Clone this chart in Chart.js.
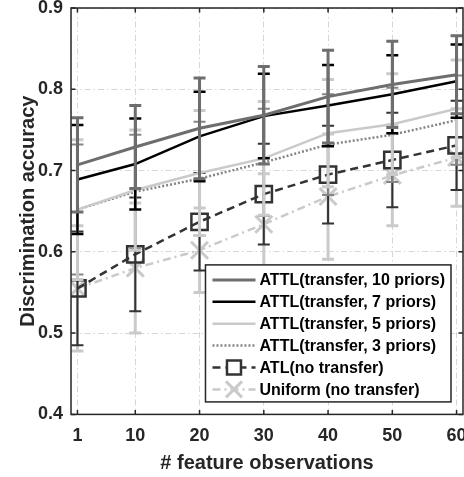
<!DOCTYPE html>
<html>
<head>
<meta charset="utf-8">
<script src="https://cdn.jsdelivr.net/npm/chart.js@4.4.1/dist/chart.umd.min.js"></script>
<style>
  html, body { margin: 0; padding: 0; background: #fff; overflow: hidden; }
</style>
</head>
<body>
<canvas id="accChart" width="464" height="477"></canvas>
<script>
// x positions (# feature observations) and tick labels
const xValues = [1, 10, 20, 30, 40, 50, 60];
const xTicks = [1, 10, 20, 30, 40, 50, 60];
const yTicks = [0.4, 0.5, 0.6, 0.7, 0.8, 0.9];

// mean accuracy and error bar half-widths
const acc10 = [0.707, 0.729, 0.752, 0.768, 0.791, 0.806, 0.818];
const err10 = [0.058, 0.051, 0.062, 0.060, 0.057, 0.053, 0.048];
const acc7 = [0.689, 0.708, 0.742, 0.767, 0.780, 0.794, 0.810];
const err7 = [0.067, 0.056, 0.055, 0.052, 0.050, 0.048, 0.045];
const acc5 = [0.652, 0.676, 0.697, 0.715, 0.746, 0.757, 0.776];
const err5 = [0.086, 0.074, 0.077, 0.070, 0.066, 0.062, 0.060];
const acc3 = [0.652, 0.674, 0.690, 0.710, 0.732, 0.744, 0.762];
const err3 = [0.080, 0.070, 0.070, 0.066, 0.062, 0.058, 0.055];
const accATL = [0.555, 0.597, 0.637, 0.671, 0.695, 0.713, 0.731];
const errATL = [0.070, 0.070, 0.060, 0.062, 0.060, 0.058, 0.055];
const accUni = [0.555, 0.580, 0.602, 0.634, 0.668, 0.694, 0.716];
const errUni = [0.077, 0.080, 0.052, 0.062, 0.077, 0.062, 0.060];

const FONT = "'Liberation Sans', Arial, Helvetica, sans-serif";
const TEXT = '#262626';

function series(label, ys, errs, style) {
  return Object.assign({
    label: label,
    data: xValues.map((x, i) => ({ x: x, y: ys[i] })),
    errors: errs,
    fill: false,
    tension: 0,
    pointRadius: 0,
    pointHoverRadius: 0
  }, style);
}

// error bars, drawn under each series' own line
const errorBars = {
  id: 'errorBars',
  beforeDatasetDraw(chart, args) {
    const ds = chart.data.datasets[args.index];
    if (!ds.errors) return;
    const { ctx, chartArea, scales: { x, y } } = chart;
    ctx.save();
    ctx.beginPath();
    ctx.rect(chartArea.left, chartArea.top, chartArea.width, chartArea.height);
    ctx.clip();
    ctx.strokeStyle = ds.errorColor || ds.borderColor;
    ctx.lineWidth = ds.errorWidth || 2;
    ctx.setLineDash([]);
    ds.data.forEach((p, i) => {
      const px = x.getPixelForValue(p.x);
      const top = y.getPixelForValue(p.y + ds.errors[i]);
      const bot = y.getPixelForValue(p.y - ds.errors[i]);
      ctx.beginPath();
      ctx.moveTo(px, top); ctx.lineTo(px, bot);
      ctx.moveTo(px - 6, top); ctx.lineTo(px + 6, top);
      ctx.moveTo(px - 6, bot); ctx.lineTo(px + 6, bot);
      ctx.stroke();
    });
    ctx.restore();
  }
};

// box around the axes with inward ticks, MATLAB style
const axesBox = {
  id: 'axesBox',
  afterDatasetsDraw(chart) {
    const { ctx, chartArea: a, scales: { x, y } } = chart;
    ctx.save();
    ctx.strokeStyle = TEXT;
    ctx.lineWidth = 1.5;
    ctx.setLineDash([]);
    ctx.beginPath();
    x.ticks.forEach(t => {
      const px = x.getPixelForValue(t.value);
      ctx.moveTo(px, a.bottom); ctx.lineTo(px, a.bottom - 4.5);
      ctx.moveTo(px, a.top); ctx.lineTo(px, a.top + 4.5);
    });
    y.ticks.forEach(t => {
      const py = y.getPixelForValue(t.value);
      ctx.moveTo(a.left, py); ctx.lineTo(a.left + 4.5, py);
      ctx.moveTo(a.right, py); ctx.lineTo(a.right - 4.5, py);
    });
    ctx.stroke();
    ctx.strokeRect(a.left, a.top, a.right - a.left, a.bottom - a.top);
    ctx.restore();
  }
};

// legend box inside the lower right corner of the plot
const insideLegend = {
  id: 'insideLegend',
  afterDraw(chart) {
    const { ctx, chartArea: a } = chart;
    const sets = chart.data.datasets;
    ctx.save();
    ctx.font = 'bold 16px ' + FONT;
    const textW = Math.max(...sets.map(d => ctx.measureText(d.label).width));
    const sampleW = 43, rowH = 21.9;
    const w = 7 + sampleW + 4 + textW + 6;
    const h = 15 + rowH * (sets.length - 1) + 12.5;
    const left = a.right - 12 - w;
    const top = a.bottom - 12.5 - h;
    ctx.fillStyle = '#fff';
    ctx.fillRect(left, top, w, h);
    ctx.strokeStyle = TEXT;
    ctx.lineWidth = 1.5;
    ctx.strokeRect(left, top, w, h);
    sets.forEach((d, i) => {
      const cy = top + 15 + i * rowH;
      const x0 = left + 7, x1 = x0 + sampleW, cx = (x0 + x1) / 2;
      ctx.strokeStyle = d.borderColor;
      ctx.lineWidth = d.borderWidth;
      ctx.setLineDash(d.borderDash || []);
      ctx.beginPath();
      ctx.moveTo(x0, cy); ctx.lineTo(x1, cy);
      ctx.stroke();
      ctx.setLineDash([]);
      if (d.pointStyle === 'rect') {
        ctx.strokeStyle = d.pointBorderColor;
        ctx.lineWidth = d.pointBorderWidth;
        ctx.fillStyle = '#fff';
        ctx.fillRect(cx - 7, cy - 7, 14, 14);
        ctx.strokeRect(cx - 7, cy - 7, 14, 14);
      } else if (d.pointStyle === 'crossRot') {
        ctx.strokeStyle = d.pointBorderColor;
        ctx.lineWidth = d.pointBorderWidth;
        ctx.beginPath();
        ctx.moveTo(cx - 8, cy - 8); ctx.lineTo(cx + 8, cy + 8);
        ctx.moveTo(cx - 8, cy + 8); ctx.lineTo(cx + 8, cy - 8);
        ctx.stroke();
      }
      ctx.fillStyle = '#000';
      ctx.textBaseline = 'middle';
      ctx.textAlign = 'left';
      ctx.fillText(d.label, x1 + 4, cy + 1);
    });
    ctx.restore();
  }
};

new Chart(document.getElementById('accChart'), {
  type: 'line',
  data: {
    datasets: [
      series('ATTL(transfer, 10 priors)', acc10, err10, {
        borderColor: '#6e6e6e', borderWidth: 3, errorWidth: 3
      }),
      series('ATTL(transfer, 7 priors)', acc7, err7, {
        borderColor: '#000000', borderWidth: 2.5, errorWidth: 2.5
      }),
      series('ATTL(transfer, 5 priors)', acc5, err5, {
        borderColor: '#cacaca', borderWidth: 2.5, errorWidth: 3
      }),
      series('ATTL(transfer, 3 priors)', acc3, err3, {
        borderColor: '#858585', borderWidth: 2.5, borderDash: [2, 2], errorWidth: 2
      }),
      series('ATL(no transfer)', accATL, errATL, {
        borderColor: '#333333', borderWidth: 2.5, borderDash: [8, 5], errorWidth: 2,
        pointStyle: 'rect', pointRadius: 11.5, pointBorderWidth: 2.5,
        pointBorderColor: '#333333', pointBackgroundColor: 'rgba(0,0,0,0)'
      }),
      series('Uniform (no transfer)', accUni, errUni, {
        borderColor: '#cacaca', borderWidth: 2.5, borderDash: [8, 4, 2, 4], errorWidth: 3,
        pointStyle: 'crossRot', pointRadius: 12, pointBorderWidth: 3,
        pointBorderColor: '#cacaca', pointBackgroundColor: 'rgba(0,0,0,0)'
      })
    ]
  },
  options: {
    responsive: false,
    animation: false,
    events: [],
    layout: { autoPadding: false, padding: { left: 18, right: 1, top: 8, bottom: 0 } },
    plugins: {
      legend: { display: false },
      tooltip: { enabled: false }
    },
    scales: {
      x: {
        type: 'linear',
        min: 0,
        max: 61,
        afterBuildTicks: s => { s.ticks = xTicks.map(v => ({ value: v })); },
        afterFit: s => { s.paddingLeft = 0; s.paddingRight = 0; },
        ticks: {
          autoSkip: false, maxRotation: 0, padding: 11, color: TEXT,
          font: { family: FONT, size: 18, weight: 'bold' }
        },
        grid: { color: '#d6d6d6', lineWidth: 1, drawTicks: false },
        border: { display: false, dash: [6, 3, 1.5, 3] },
        title: {
          display: true, text: '# feature observations', color: TEXT,
          font: { family: FONT, size: 20, weight: 'bold' },
          padding: { top: -7, bottom: 2 }
        }
      },
      y: {
        min: 0.4,
        max: 0.9,
        afterBuildTicks: s => { s.ticks = yTicks.map(v => ({ value: v })); },
        afterFit: s => { s.paddingTop = 0; s.paddingBottom = 0; },
        ticks: {
          padding: 8, color: TEXT,
          callback: v => v.toFixed(1),
          font: { family: FONT, size: 18, weight: 'bold' }
        },
        grid: { color: '#d6d6d6', lineWidth: 1, drawTicks: false },
        border: { display: false, dash: [6, 3, 1.5, 3] },
        title: {
          display: true, text: 'Discrimination accuracy', color: TEXT,
          font: { family: FONT, size: 20, weight: 'bold', lineHeight: 1 },
          padding: { top: 0, bottom: -8 }
        }
      }
    }
  },
  plugins: [errorBars, axesBox, insideLegend]
});
</script>
</body>
</html>
